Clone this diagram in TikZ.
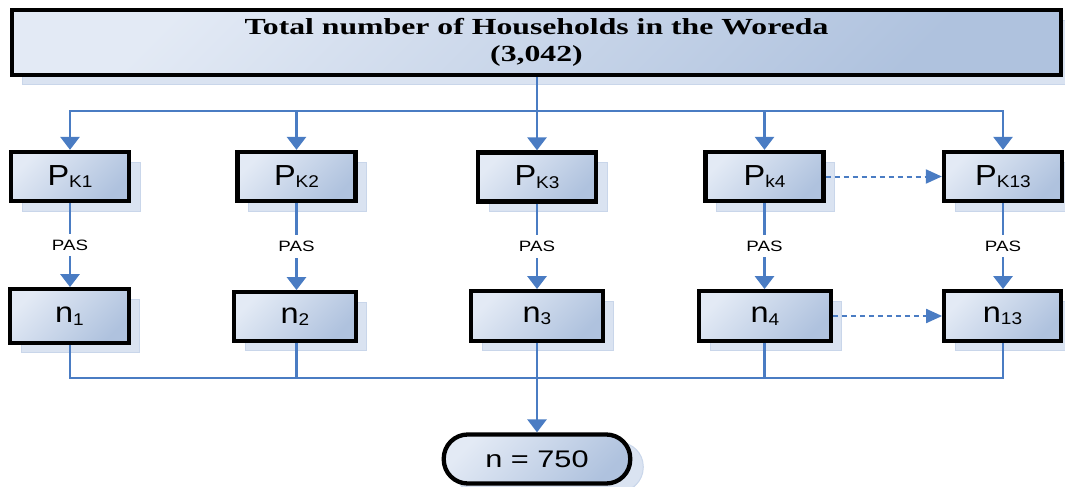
\documentclass[tikz,border=0pt]{standalone}
\usepackage{fontspec}
\usepackage{graphicx}
\setmainfont{Liberation Sans}
\newfontfamily\titlefont{Liberation Serif}
\usetikzlibrary{arrows.meta,shadows}
\definecolor{flowblue}{HTML}{4A7CC3}
\definecolor{boxlight}{HTML}{E3EAF5}
\definecolor{boxdark}{HTML}{AFC2DE}
\definecolor{shadowfill}{HTML}{DAE3F1}
\definecolor{shadowedge}{HTML}{C9D6EA}
\newcommand\lowsub[1]{{\fontsize{17}{17}\selectfont\raisebox{-2.5pt}{#1}}}
\newcommand\boxtext[1]{\scalebox{1.12}[1]{#1}}
\begin{document}
\begin{tikzpicture}[x=1pt,y=-1pt,
  boxbase/.style={draw=black, line width=4.3pt, top color=boxlight, bottom color=boxdark,
    shading angle=45, inner sep=0pt, font=\fontsize{29}{29}\selectfont,
    general shadow={shadow xshift=11pt, shadow yshift=-10pt, fill=shadowfill, draw=shadowedge, line width=1pt}},
  topbox/.style={boxbase, align=center, font={\titlefont\bfseries\fontsize{23}{27}\selectfont},
    general shadow={shadow xshift=10pt, shadow yshift=-10pt, fill=shadowfill, draw=shadowedge, line width=1pt}},
  pbox/.style={boxbase, minimum width=118pt, minimum height=49pt},
  nbox/.style={boxbase},
  finalbox/.style={boxbase, rounded corners=24pt, font=\fontsize{24}{24}\selectfont,
    general shadow={shadow xshift=13pt, shadow yshift=-8pt, fill=shadowfill, draw=shadowedge, line width=1pt}},
  flow/.style={draw=flowblue, line width=2.8pt},
  flowarrow/.style={flow, -{Triangle[width=19pt,length=13pt]}},
  dashflow/.style={draw=flowblue, line width=2pt, dash pattern=on 5pt off 4pt, -{Triangle[width=14pt,length=16pt]}},
  paslabel/.style={fill=white, inner xsep=2pt, inner ysep=6pt, font=\fontsize{15}{15}\selectfont}
]
\useasboundingbox (0,0) rectangle (1065,487);

% top box
\node[topbox, minimum width=1048.5pt, minimum height=64.5pt] (top) at (536.5,42.5)
  {\scalebox{1.38}[1]{Total number of Households in the Woreda}\\\scalebox{1.38}[1]{(3,042)}};

% P boxes
\node[pbox] (p1) at (70,176.5) {\boxtext{P\lowsub{K1}}};
\node[pbox] (p2) at (296.5,176.5) {\boxtext{P\lowsub{K2}}};
\node[pbox] (p3) at (537,177) {\boxtext{P\lowsub{K3}}};
\node[pbox] (p4) at (764.5,176.5) {\boxtext{P\lowsub{k4}}};
\node[pbox] (p13) at (1003,176.5) {\boxtext{P\lowsub{K13}}};

% n boxes
\node[nbox, minimum width=118.5pt, minimum height=53.5pt] (n1) at (69.5,316) {\boxtext{n\lowsub{1}}};
\node[nbox, minimum width=121.5pt, minimum height=48.5pt] (n2) at (295,316.5) {\boxtext{n\lowsub{2}}};
\node[nbox, minimum width=131.5pt, minimum height=49.5pt] (n3) at (537,316) {\boxtext{n\lowsub{3}}};
\node[nbox, minimum width=131.5pt, minimum height=49.5pt] (n4) at (765,316) {\boxtext{n\lowsub{4}}};
\node[nbox, minimum width=116.5pt, minimum height=49.5pt] (n13) at (1002.5,316) {\boxtext{n\lowsub{13}}};

% final
\node[finalbox, minimum width=186.5pt, minimum height=49pt] (fin) at (537,459)
  {\scalebox{1.28}[1]{n = 750}};

\coordinate (bus) at (537,111);
\coordinate (bot) at (537,378);

% top distribution
\draw[flow] (top.south -| p3) -- (bus);
\draw[flow, {Triangle[width=19pt,length=13pt]}-{Triangle[width=19pt,length=13pt]}, line join=miter]
  (p1.north) |- (bus) -| (p13.north);
\draw[flowarrow] (bus -| p2) -- (p2.north);
\draw[flowarrow] (bus -| p3) -- (p3.north);
\draw[flowarrow] (bus -| p4) -- (p4.north);

% PAS
\foreach \a/\b in {p1/n1, p2/n2, p3/n3, p4/n4, p13/n13}{
  \draw[flowarrow] (\a.south) -- node[paslabel]{\scalebox{1.25}[1]{PAS}} (\a.south |- \b.north);
}

% dashed
\draw[dashflow] (p4.east) -- (p13.west);
\draw[dashflow] (n4.east) -- (n13.west);

% bottom collection
\draw[flow, line join=miter] (n1.south -| p1) |- (bot -| p13) -- (n13.south -| p13);
\draw[flow] (n2.south -| p2) -- (bot -| p2);
\draw[flow] (n4.south -| p4) -- (bot -| p4);
\draw[flowarrow] (n3.south) -- (fin.north);
\end{tikzpicture}
\end{document}
